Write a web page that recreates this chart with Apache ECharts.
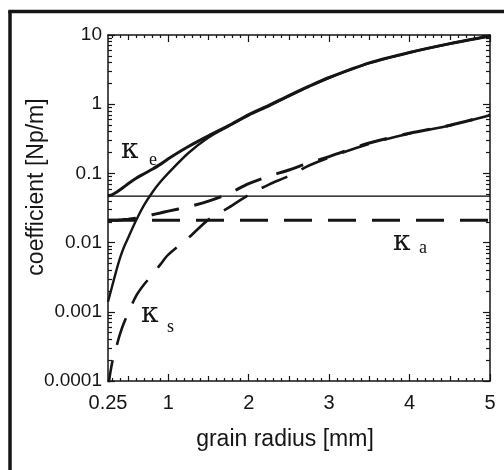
<!DOCTYPE html>
<html><head><meta charset="utf-8">
<script src="https://cdn.jsdelivr.net/npm/echarts@6/dist/echarts.min.js"></script>
<style>html,body{margin:0;padding:0;background:#fff}#c{width:504px;height:470px}</style>
</head><body><div id="c"></div>
<script>
// grain radius [mm]
const radius      = [0.25, 0.3, 0.35, 0.4, 0.45, 0.5, 0.6, 0.7, 0.8, 0.9, 1, 1.25, 1.5, 1.75, 2, 2.25, 2.5, 2.75, 3, 3.5, 4, 4.5, 5];
// extinction coefficient (solid)
const kappaE      = [0.047, 0.049, 0.053, 0.058, 0.064, 0.071, 0.085, 0.099, 0.115, 0.135, 0.163, 0.245, 0.35, 0.49, 0.71, 0.96, 1.33, 1.82, 2.43, 3.95, 5.6, 7.5, 9.7];
// scattering coefficient (solid)
const kappaS      = [0.0014, 0.0023, 0.0038, 0.006, 0.0087, 0.0117, 0.021, 0.035, 0.053, 0.075, 0.101, 0.197, 0.33, 0.48, 0.69, 0.94, 1.31, 1.80, 2.41, 3.93, 5.58, 7.48, 9.68];
// extinction coefficient (dashed)
const kappaEDash  = [0.021, 0.021, 0.021, 0.0212, 0.0215, 0.0218, 0.0225, 0.0236, 0.0252, 0.0268, 0.0285, 0.033, 0.0397, 0.051, 0.071, 0.091, 0.112, 0.142, 0.175, 0.275, 0.38, 0.495, 0.70];
// scattering coefficient (dashed)
const kappaSDash  = [0.00008, 0.00018, 0.0003, 0.00048, 0.0007, 0.00095, 0.0017, 0.0025, 0.0034, 0.0048, 0.0067, 0.0117, 0.0215, 0.032, 0.049, 0.069, 0.092, 0.130, 0.170, 0.268, 0.378, 0.493, 0.695];
// absorption coefficient (dashed, constant) and thin reference line
const flatRadius  = [0.25, 5];
const kappaA      = [0.021, 0.021];
const thinLine    = [0.047, 0.047];
// ticks
const xTickLabels = [0.25, 1, 2, 3, 4, 5];
const xMajorTicks = [1, 2, 3, 4, 5];
const xHalfTicks  = [0.5, 1.5, 2.5, 3.5, 4.5];
const yMajorTicks = [0.0001, 0.001, 0.01, 0.1, 1, 10];
const yTickLabels = ['0.0001', '0.001', '0.01', '0.1', '1', '10'];

const xMinorTicks = [];
for (let i = 3; i <= 49; i++) { if (i % 5 !== 0) xMinorTicks.push(i / 10); }
const yMinorTicks = [];
for (let k = -4; k <= 0; k++) for (let m = 2; m <= 9; m++) yMinorTicks.push(+(m * Math.pow(10, k)).toPrecision(3));

const INK = '#151515';
const SANS = '"Liberation Sans", Arial, sans-serif';
const SERIF = '"DejaVu Serif", "Liberation Serif", serif';
const pairs = (xs, ys) => xs.map((x, i) => [x, ys[i]]);

function xAx(pos, ticks, len, withLine, withLabel) {
  return {
    type: 'value', min: 0.25, max: 5, position: pos,
    axisLine: { show: withLine, lineStyle: { color: INK, width: 1.5 } },
    axisTick: { show: true, inside: true, length: len, customValues: ticks, lineStyle: { color: INK, width: 1.2 } },
    axisLabel: withLabel ? { show: true, customValues: xTickLabels, formatter: v => String(v), fontSize: 20, color: INK, fontFamily: SANS, margin: 12 } : { show: false },
    splitLine: { show: false }
  };
}
function yAx(pos, ticks, len, withLine, withLabel) {
  return {
    type: 'log', logBase: 10, min: 0.0001, max: 10, position: pos,
    axisLine: { show: withLine, lineStyle: { color: INK, width: 1.5 } },
    axisTick: { show: true, inside: true, length: len, customValues: ticks, lineStyle: { color: INK, width: 1.2 } },
    axisLabel: withLabel ? {
      show: true, customValues: yMajorTicks, fontSize: 19, color: INK, fontFamily: SANS, margin: 6,
      formatter: v => { const i = yMajorTicks.findIndex(m => Math.abs(Math.log10(m) - Math.log10(v)) < 1e-6); return i >= 0 ? yTickLabels[i] : ''; }
    } : { show: false },
    splitLine: { show: false }
  };
}

const chart = echarts.init(document.getElementById('c'), null, { renderer: 'canvas' });
const lineBase = { type: 'line', showSymbol: false, silent: true, xAxisIndex: 0, yAxisIndex: 0, smooth: 0.3 };
const dash = [28, 16];

chart.setOption({
  animation: false,
  backgroundColor: '#fff',
  grid: { left: 108, top: 35, right: 14, bottom: 89, containLabel: false },
  xAxis: [
    xAx('bottom', xMajorTicks, 7, true, true),
    xAx('bottom', xHalfTicks, 5, false, false),
    xAx('bottom', xMinorTicks, 3, false, false),
    xAx('top', xMajorTicks, 7, true, false),
    xAx('top', xHalfTicks, 5, false, false),
    xAx('top', xMinorTicks, 3, false, false)
  ],
  yAxis: [
    yAx('left', yMajorTicks, 7, true, true),
    yAx('left', yMinorTicks, 4, false, false),
    yAx('right', yMajorTicks, 7, true, false),
    yAx('right', yMinorTicks, 4, false, false)
  ],
  series: [
    Object.assign({}, lineBase, { name: 'thin', smooth: false, data: pairs(flatRadius, thinLine), lineStyle: { color: '#000', width: 1.3 } }),
    Object.assign({}, lineBase, { name: 'κa', smooth: false, data: pairs(flatRadius, kappaA), lineStyle: { color: INK, width: 3, type: dash } }),
    Object.assign({}, lineBase, { name: 'κe dashed', data: pairs(radius, kappaEDash), lineStyle: { color: INK, width: 3, type: dash } }),
    Object.assign({}, lineBase, { name: 'κs dashed', data: pairs(radius, kappaSDash), lineStyle: { color: INK, width: 2.6, type: dash } }),
    Object.assign({}, lineBase, { name: 'κs', data: pairs(radius, kappaS), lineStyle: { color: INK, width: 2.4 } }),
    Object.assign({}, lineBase, { name: 'κe', data: pairs(radius, kappaE), lineStyle: { color: INK, width: 3 } })
  ],
  graphic: [
    { type: 'line', shape: { x1: 10, y1: 11, x2: 10, y2: 470 }, style: { stroke: INK, lineWidth: 3.5 } },
    { type: 'line', shape: { x1: 8.3, y1: 11.5, x2: 504, y2: 11.5 }, style: { stroke: INK, lineWidth: 3.5 } },
    { type: 'text', x: 37, y: 187, rotation: Math.PI / 2, style: { text: 'coefficient [Np/m]', font: '23px ' + SANS, fill: INK, textAlign: 'center', textVerticalAlign: 'middle' } },
    { type: 'text', x: 285, y: 440, style: { text: 'grain radius [mm]', font: '23px ' + SANS, fill: INK, textAlign: 'center', textVerticalAlign: 'middle' } },
    { type: 'text', x: 121, y: 151, style: { text: 'κ', font: '28px ' + SERIF, fill: INK, textAlign: 'left', textVerticalAlign: 'middle' } },
    { type: 'text', x: 149, y: 160, style: { text: 'e', font: '18px "Liberation Serif", serif', fill: INK, textAlign: 'left', textVerticalAlign: 'middle' } },
    { type: 'text', x: 141, y: 315, style: { text: 'κ', font: '28px ' + SERIF, fill: INK, textAlign: 'left', textVerticalAlign: 'middle' } },
    { type: 'text', x: 167, y: 327, style: { text: 's', font: '18px "Liberation Serif", serif', fill: INK, textAlign: 'left', textVerticalAlign: 'middle' } },
    { type: 'text', x: 393, y: 243, style: { text: 'κ', font: '28px ' + SERIF, fill: INK, textAlign: 'left', textVerticalAlign: 'middle' } },
    { type: 'text', x: 419, y: 248, style: { text: 'a', font: '18px "Liberation Serif", serif', fill: INK, textAlign: 'left', textVerticalAlign: 'middle' } }
  ]
});
</script></body></html>
